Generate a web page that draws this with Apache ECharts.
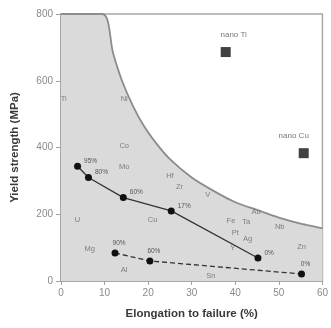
<!DOCTYPE html>
<html>
<head>
<meta charset="utf-8">
<script src="https://cdn.jsdelivr.net/npm/echarts@6/dist/echarts.min.js"></script>
<style>
  html, body { margin: 0; padding: 0; background: #fff; }
  #chart { width: 331px; height: 328px; }
</style>
</head>
<body>
<div id="chart"></div>
<script>
// Upper envelope of conventional coarse-grained metals (elongation %, yield MPa)
const boundElong = [0, 9.5, 12, 14, 16.5, 19, 22, 25, 30, 35, 40, 45, 50, 55, 60];
const boundYield = [800, 800, 680, 600, 525, 465, 410, 365, 310, 270, 236, 213, 190, 172, 158];

// Cold-rolled Cu (solid line) with rolling reductions
const cuElong = [3.8, 6.3, 14.3, 25.3, 45.2];
const cuYield = [344, 310, 250, 210, 69];
const cuRolling = ['95%', '80%', '60%', '17%', '0%'];

// Cold-rolled Al (dashed line)
const alElong = [12.4, 20.4, 55.2];
const alYield = [84, 60, 21];
const alRolling = ['90%', '60%', '0%'];

// Nanostructured metals
const nanoNames = ['nano Ti', 'nano Cu'];
const nanoElong = [37.8, 55.7];
const nanoYield = [686, 383];

// Conventional metals
const metalNames = ['Ti', 'Ni', 'Co', 'Mo', 'U', 'Mg', 'Al', 'Cu', 'Hf', 'Zr', 'V', 'Fe', 'Ta', 'Au', 'Pt', 'Ag', 'Y', 'Nb', 'Zn', 'Sn'];
const metalElong = [0.6, 14.5, 14.5, 14.5, 3.8, 6.6, 14.5, 21, 25, 27.2, 33.7, 39, 42.5, 44.8, 40, 42.8, 39.4, 50.2, 55.2, 34.4];
const metalYield = [545, 545, 404, 341, 183, 96, 33, 183, 314, 281, 257, 180, 177, 207, 144, 126, 99, 162, 102, 16];

// Tick labels
const xTicks = [0, 10, 20, 30, 40, 50, 60];
const yTicks = [0, 200, 400, 600, 800];

const zip = (a, b) => a.map((v, i) => [v, b[i]]);
const font = 'Liberation Sans, Arial, sans-serif';

const chart = echarts.init(document.getElementById('chart'), null, { renderer: 'canvas' });
chart.setOption({
  backgroundColor: '#fff',
  animation: false,
  grid: {
    left: 61, top: 14, right: 5, bottom: 47,
    show: true, borderColor: '#a8a8a8', borderWidth: 1.5, backgroundColor: 'transparent'
  },
  xAxis: {
    type: 'value', min: xTicks[0], max: xTicks[xTicks.length - 1], interval: 10,
    name: 'Elongation to failure (%)', nameLocation: 'middle', nameGap: 27,
    nameTextStyle: { fontFamily: font, fontWeight: 'bold', fontSize: 11.5, color: '#3a3a3a' },
    axisLine: { show: true, lineStyle: { color: '#a0a0a0', width: 1.5 } },
    axisTick: { show: true, inside: false, length: 4, lineStyle: { color: '#a0a0a0' } },
    axisLabel: { fontFamily: font, fontSize: 10, color: '#8a8a8a', margin: 7 },
    splitLine: { show: false }
  },
  yAxis: {
    type: 'value', min: yTicks[0], max: yTicks[yTicks.length - 1], interval: 200,
    name: 'Yield strength (MPa)', nameLocation: 'middle', nameGap: 40,
    nameTextStyle: { fontFamily: font, fontWeight: 'bold', fontSize: 11.5, color: '#3a3a3a' },
    axisLine: { show: true, lineStyle: { color: '#a0a0a0', width: 1.5 } },
    axisTick: { show: true, inside: false, length: 5, lineStyle: { color: '#a0a0a0' } },
    axisLabel: { fontFamily: font, fontSize: 10, color: '#8a8a8a', margin: 8 },
    splitLine: { show: false }
  },
  series: [
    {
      // shaded region of conventional metals
      type: 'line', data: zip(boundElong, boundYield),
      smooth: 0.3, symbol: 'none', clip: true,
      lineStyle: { color: '#8c8c8c', width: 1.8 },
      areaStyle: { color: '#dadada', opacity: 1, origin: 'start' },
      z: 1
    },
    {
      type: 'line', data: zip(cuElong, cuYield),
      symbol: 'circle', symbolSize: 7,
      itemStyle: { color: '#111' },
      lineStyle: { color: '#333', width: 1.3 },
      label: {
        show: true, position: 'right', distance: 3, offset: [0, -5],
        fontFamily: font, fontSize: 6.5, color: '#555',
        formatter: p => cuRolling[p.dataIndex]
      },
      z: 5
    },
    {
      type: 'line', data: zip(alElong, alYield),
      symbol: 'circle', symbolSize: 7,
      itemStyle: { color: '#111' },
      lineStyle: { color: '#333', width: 1.3, type: [5, 3] },
      label: {
        show: true, position: 'top', distance: 3, offset: [4, 0],
        fontFamily: font, fontSize: 6.5, color: '#555',
        formatter: p => alRolling[p.dataIndex]
      },
      z: 5
    },
    {
      type: 'scatter', data: zip(nanoElong, nanoYield),
      symbol: 'rect', symbolSize: 10,
      itemStyle: { color: '#111' },
      label: {
        show: true, position: 'top', distance: 8,
        fontFamily: font, fontSize: 8, color: '#555',
        formatter: p => nanoNames[p.dataIndex]
      },
      labelLayout: p => p.dataIndex === 1 ? { dx: -10 } : { dx: 8 },
      z: 6
    },
    {
      type: 'scatter', data: zip(metalElong, metalYield),
      symbolSize: 0, silent: true,
      label: {
        show: true, position: 'inside',
        fontFamily: font, fontSize: 7.5, color: '#666',
        formatter: p => metalNames[p.dataIndex]
      },
      z: 4
    }
  ]
});
</script>
</body>
</html>
